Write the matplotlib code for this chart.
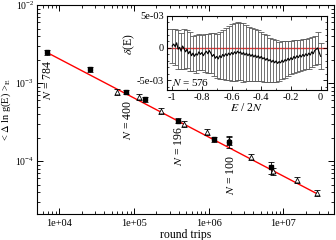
import matplotlib
matplotlib.use("Agg")
import matplotlib.pyplot as plt
import numpy as np
from matplotlib.ticker import LogLocator, MultipleLocator, NullFormatter

# main panel: mean error vs number of round trips
filled_x = [6.8e3, 2.58e4, 7.9e4, 1.39e5, 3.9e5, 1.18e6, 1.89e6, 6.8e6]
filled_y = [2.48e-3, 1.50e-3, 7.7e-4, 6.2e-4, 3.3e-4, 1.91e-4, 1.75e-4, 8.4e-5]
filled_err = [1.8e-4, 1.1e-4, 5.5e-5, 4.5e-5, 2.5e-5, 1.5e-5, 2.8e-5, 1.5e-5]

open_x = [5.97e4, 1.156e5, 2.3e5, 4.67e5, 9.4e5, 1.9e6, 3.65e6, 7.33e6, 1.51e7, 2.84e7]
open_y = [7.7e-4, 6.7e-4, 4.4e-4, 3.0e-4, 2.38e-4, 1.85e-4, 1.12e-4, 7.4e-5, 5.7e-5, 3.9e-5]
open_err = [6.5e-5, 5.5e-5, 3.8e-5, 2.6e-5, 2.1e-5, 2.4e-5, 1.0e-5, 7e-6, 5e-6, 3.5e-6]

fit_x = [6.8e3, 2.9e7]
fit_y = [2.47e-3, 3.79e-5]

x_ticks = [1e4, 1e5, 1e6, 1e7]
x_tick_labels = ["1e+04", "1e+05", "1e+06", "1e+07"]

n_labels = ["$N$ = 784", "$N$ = 400", "$N$ = 196", "$N$ = 100"]

# inset: delta(E) vs E/2N, N = 576 (one value every 0.01)
delta = [0.3, 0.6, 0.2, 0.8, -0.2, 0.1, -0.5, 0.3, -0.1, -0.6,
         -0.2, -0.9, -0.5, -1.2, -0.8, -1.3, -0.9, -1.1, -0.6, -1.0,
         -0.7, -1.2, -0.8, -0.5, -0.9, -0.4, -0.8, -1.3, -1.0, -1.6,
         -1.3, -1.7, -1.2, -1.5, -1.0, -1.3, -0.9, -1.2, -0.8, -1.1,
         -0.7, -1.0, -0.6, -0.9, -0.5, -0.8, -0.6, -1.0, -0.7, -1.1,
         -0.8, -1.2, -0.9, -1.3, -1.0, -1.4, -1.1, -1.5, -1.2, -1.6,
         -1.3, -1.7, -1.5, -1.9, -1.6, -2.0, -1.8, -2.2, -1.9, -2.3,
         -2.0, -2.4, -2.1, -2.3, -1.9, -2.2, -1.8, -2.0, -1.6, -1.9,
         -1.5, -1.8, -1.3, -1.6, -1.2, -1.5, -1.1, -1.4, -1.0, -1.3,
         -0.9, -1.2, -0.8, -1.1, -0.6, -0.9, -0.4, -0.2, 0.0, -0.7,
         -1.3]
# error bars on every second point
delta_err = [2.6, 2.8, 3.0, 2.8, 3.1, 2.9, 3.0, 2.7, 2.9, 2.8,
             2.7, 2.9, 3.0, 3.1, 3.3, 3.4, 3.6, 3.8, 4.0, 4.2,
             4.4, 4.5, 4.5, 4.4, 4.5, 4.3, 4.2, 4.1, 4.0, 3.9,
             3.8, 3.7, 3.6, 3.4, 3.3, 3.2, 3.0, 2.9, 2.8, 2.7,
             2.6, 2.5, 2.5, 2.4, 2.4, 2.3, 2.4, 2.3, 2.2, 2.5,
             2.0]

plt.rcParams["font.family"] = ["Liberation Serif", "DejaVu Serif"]
plt.rcParams["mathtext.fontset"] = "stix"
plt.rcParams["xtick.direction"] = "in"
plt.rcParams["ytick.direction"] = "in"

fig = plt.figure(figsize=(3.36, 2.40), dpi=100)
ax = fig.add_axes([0.110, 0.108, 0.884, 0.871])

ax.plot(fit_x, fit_y, color="red", lw=1.0, zorder=2)
ax.errorbar(open_x, open_y, yerr=open_err, fmt="^", ms=3.5, mfc="white",
            mec="black", mew=0.6, ecolor="black", elinewidth=0.6,
            capsize=2.2, capthick=0.6, zorder=3)
ax.errorbar(filled_x, filled_y, yerr=filled_err, fmt="s", ms=2.8, mfc="black",
            mec="black", ecolor="black", elinewidth=0.6,
            capsize=2.2, capthick=0.6, zorder=4)

ax.set_xscale("log")
ax.set_yscale("log")
ax.set_xlim(5e3, 4.8e7)
ax.set_ylim(2.1e-5, 1e-2)
ax.set_xticks(x_ticks)
ax.set_xticklabels(x_tick_labels)
ax.xaxis.set_minor_locator(LogLocator(base=10, subs=np.arange(2, 10), numticks=20))
ax.xaxis.set_minor_formatter(NullFormatter())
ax.yaxis.set_minor_locator(LogLocator(base=10, subs=np.arange(2, 10), numticks=20))
ax.yaxis.set_minor_formatter(NullFormatter())
ax.tick_params(which="both", top=True, right=True, labelsize=7.5)
ax.tick_params(axis="y", which="major", labelsize=7, pad=2)
ax.tick_params(which="major", length=4, width=0.7)
ax.tick_params(which="minor", length=2, width=0.6)
ax.set_xlabel("round trips", fontsize=8.5, labelpad=1)
ax.set_ylabel(r"< $\Delta$ ln g(E) >$_{\mathrm{E}}$", fontsize=7.5)
ax.yaxis.set_label_coords(-0.079, 0.5)

label_pos = [(0.037, 0.64), (0.306, 0.452), (0.478, 0.325), (0.653, 0.187)]
for (tx, ty), txt in zip(label_pos, n_labels):
    ax.text(tx, ty, txt, transform=ax.transAxes, rotation=90,
            ha="center", va="center", fontsize=8.5)

# inset
axi = fig.add_axes([0.497, 0.625, 0.475, 0.31])
inset_x = np.linspace(-1.0, 0.0, len(delta))
delta_arr = np.array(delta) * 1e-3
axi.axhline(0, color="#ee3333", lw=1.0, zorder=1)
axi.errorbar(inset_x[::2], delta_arr[::2], yerr=np.array(delta_err) * 1e-3,
             fmt="none", ecolor="0.35", elinewidth=0.6, capsize=2.0,
             capthick=0.6, zorder=2)
axi.plot(inset_x, delta_arr, color="black", lw=0.8, zorder=3)
axi.set_xlim(-1.035, 0.04)
axi.set_ylim(-6.5e-3, 5.0e-3)
axi.set_yticks([5e-3, 0, -5e-3])
axi.set_yticklabels(["5e-03", "0", "-5e-03"])
axi.set_xticks([-1, -0.8, -0.6, -0.4, -0.2, 0])
axi.set_xticklabels(["-1", "-0.8", "-0.6", "-0.4", "-0.2", "0"])
axi.xaxis.set_minor_locator(MultipleLocator(0.1))
axi.yaxis.set_minor_locator(MultipleLocator(1e-3))
axi.tick_params(which="both", top=True, right=True, labelsize=7.5, pad=2)
axi.tick_params(which="major", length=3, width=0.6)
axi.tick_params(which="minor", length=1.5, width=0.5)
axi.set_xlabel("$E$ / 2$N$", fontsize=8.5, labelpad=0)
axi.set_ylabel(r"$\delta$(E)", fontsize=8.5)
axi.yaxis.set_label_coords(-0.19, 0.62)
axi.text(0.031, 0.1, "$N$ = 576", transform=axi.transAxes,
         ha="left", va="center", fontsize=8)

fig.savefig("out.png", dpi=100)
